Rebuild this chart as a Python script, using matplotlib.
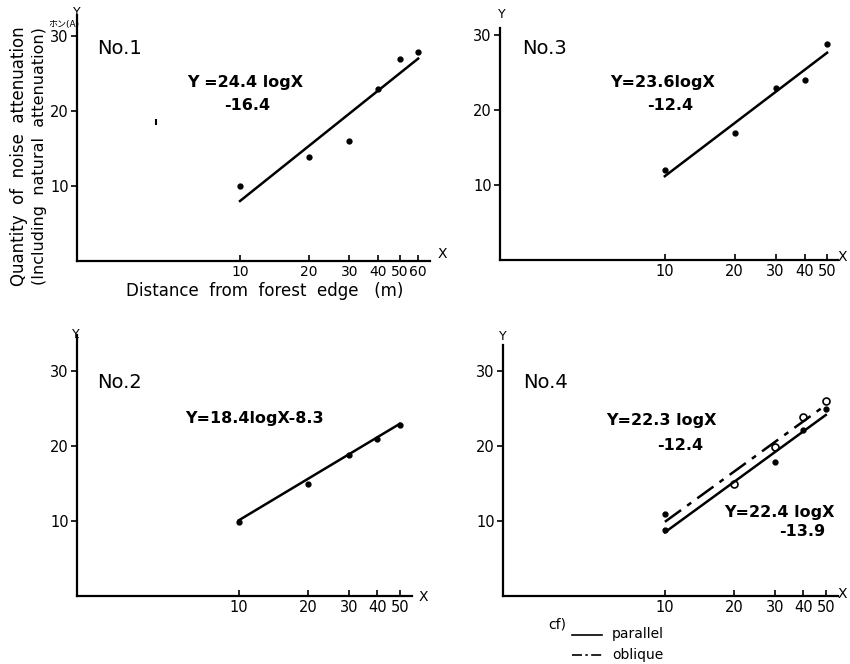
import numpy as np
import matplotlib
matplotlib.use("Agg")
import matplotlib.pyplot as plt
from matplotlib.lines import Line2D

plt.rcParams['font.family'] = ['DejaVu Sans', 'Noto Sans CJK JP']

W, H = 850, 664

# ---------------- data ----------------
x_ticks = [10, 20, 30, 40, 50]
x_ticks_1 = [10, 20, 30, 40, 50, 60]
y_ticks = [10, 20, 30]

# No.1
x1 = [10, 20, 30, 40, 50, 60]
y1 = [10.0, 13.9, 16.0, 22.9, 26.9, 27.9]
stray1_x = [4.3]
stray1_y = [18.5]
fit1 = (24.4, -16.4)
fit1_range = (10, 60)

# No.3
x3 = [10, 20, 30, 40, 50]
y3 = [12.0, 17.0, 23.0, 24.0, 28.8]
fit3 = (23.6, -12.4)
fit3_range = (10, 50)

# No.2
x2 = [10, 20, 30, 40, 50]
y2 = [9.9, 14.9, 18.8, 20.9, 22.8]
fit2 = (18.4, -8.3)
fit2_range = (10, 50)

# No.4
x4_open = [20, 30, 40, 50]
y4_open = [15.0, 19.9, 23.9, 26.0]
x4_fill = [10, 10, 20, 30, 40, 50]
y4_fill = [10.9, 8.8, 15.0, 17.9, 22.1, 24.9]
fit4_par = (22.4, -13.9)   # parallel (solid)
fit4_obl = (22.3, -12.4)   # oblique (dash-dot)
fit4_range = (10, 50)

fig = plt.figure(figsize=(W / 100, H / 100), dpi=100)


def px_rect(l, r, b, t):
    return [l / W, 1 - b / H, (r - l) / W, (b - t) / H]


def ftext(px, py, s, **kw):
    fig.text(px / W, 1 - py / H, s, **kw)


def setup(ax, xlim, ylim, xt, xfs=10.5):
    ax.set_xscale('log')
    ax.set_xlim(*xlim)
    ax.set_ylim(*ylim)
    for s in ['top', 'right']:
        ax.spines[s].set_visible(False)
    for s in ['left', 'bottom']:
        ax.spines[s].set_linewidth(1.6)
    ax.set_xticks(xt)
    ax.set_xticklabels([str(v) for v in xt], fontsize=xfs)
    ax.xaxis.set_minor_locator(matplotlib.ticker.NullLocator())
    ax.set_yticks(y_ticks)
    ax.set_yticklabels([str(v) for v in y_ticks], fontsize=10.5)
    ax.tick_params(axis='x', direction='in', length=4, width=1.2, pad=3)
    ax.tick_params(axis='y', direction='out', length=4, width=1.2, pad=2)
    ax.patch.set_alpha(0)


def fitline(ax, coef, rng, **kw):
    xs = np.array(rng, dtype=float)
    ax.plot(xs, coef[0] * np.log10(xs) + coef[1], color='black', **kw)


# No.1
ax1 = fig.add_axes(px_rect(77, 430, 261, 15))
setup(ax1, (1.94, 67.6), (0, 32.8), x_ticks_1, xfs=10)
ax1.plot(x1, y1, 'o', color='black', ms=3.5)
ax1.plot(stray1_x, stray1_y, '|', color='black', ms=5, mew=1.5)
fitline(ax1, fit1, fit1_range, lw=1.8)

# No.3
ax3 = fig.add_axes(px_rect(500, 838, 260, 28))
setup(ax3, (1.95, 55.7), (0, 31.0), x_ticks)
ax3.plot(x3, y3, 'o', color='black', ms=3.5)
fitline(ax3, fit3, fit3_range, lw=1.8)

# No.2
ax2 = fig.add_axes(px_rect(77, 412, 596, 335))
setup(ax2, (1.98, 56.5), (0, 34.8), x_ticks)
ax2.plot(x2, y2, 'o', color='black', ms=3.5)
fitline(ax2, fit2, fit2_range, lw=1.8)

# No.4
ax4 = fig.add_axes(px_rect(503, 838, 596, 345))
setup(ax4, (1.98, 56.5), (0, 33.5), x_ticks)
ax4.plot(x4_fill, y4_fill, 'o', color='black', ms=3.5)
ax4.plot(x4_open, y4_open, 'o', mfc='white', mec='black', mew=1.2, ms=5)
fitline(ax4, fit4_par, fit4_range, lw=1.8)
fitline(ax4, fit4_obl, fit4_range, lw=1.8, dashes=(8, 3, 2, 3))

# axis letters
ftext(77, 13, 'Y', fontsize=9, ha='center', va='center')
ftext(502, 15, 'Y', fontsize=9, ha='center', va='center')
ftext(77, 334, 'Y.', fontsize=9, ha='center', va='center')
ftext(503, 336, 'Y', fontsize=9, ha='center', va='center')
ftext(442, 254, 'X', fontsize=10, ha='center', va='center')
ftext(842, 257, 'X', fontsize=10, ha='center', va='center')
ftext(423, 597, 'X', fontsize=10, ha='center', va='center')
ftext(842, 594, 'X', fontsize=10, ha='center', va='center')
ftext(64, 24, 'ホン(A)', fontsize=6.5, ha='center', va='center')

# panel titles
for (px, py, s) in [(97, 48, 'No.1'), (522, 48, 'No.3'), (97, 383, 'No.2'), (523, 383, 'No.4')]:
    ftext(px, py, s, fontsize=14, ha='left', va='center')

# equations
eq_kw = dict(fontsize=11.5, ha='center', va='center', fontweight='bold')
ftext(245, 83, 'Y =24.4 logX', **eq_kw)
ftext(247, 106, '-16.4', **eq_kw)
ftext(663, 83, 'Y=23.6logX', **eq_kw)
ftext(670, 106, '-12.4', **eq_kw)
ftext(255, 418, 'Y=18.4logX-8.3', **eq_kw)
ftext(661, 420, 'Y=22.3 logX', **eq_kw)
ftext(680, 445, '-12.4', **eq_kw)
ftext(779, 512, 'Y=22.4 logX', **eq_kw)
ftext(802, 532, '-13.9', **eq_kw)

# axis titles
ftext(19, 156, 'Quantity  of  noise  attenuation', fontsize=12, rotation=90,
      ha='center', va='center')
ftext(40, 156, '(Including  natural  attenuation)', fontsize=11.5, rotation=90,
      ha='center', va='center')
ftext(265, 291, 'Distance  from  forest  edge   (m)', fontsize=12,
      ha='center', va='center')

# legend
ftext(548, 625, 'cf)', fontsize=10, ha='left', va='center')
fig.add_artist(Line2D([572 / W, 602 / W], [1 - 635 / H, 1 - 635 / H],
                      color='black', lw=1.2))
fig.add_artist(Line2D([572 / W, 602 / W], [1 - 655 / H, 1 - 655 / H],
                      color='black', lw=1.2, dashes=(6, 2, 1.5, 2)))
ftext(612, 634, 'parallel', fontsize=10, ha='left', va='center')
ftext(612, 655, 'oblique', fontsize=10, ha='left', va='center')

fig.savefig('out.png', dpi=100)
